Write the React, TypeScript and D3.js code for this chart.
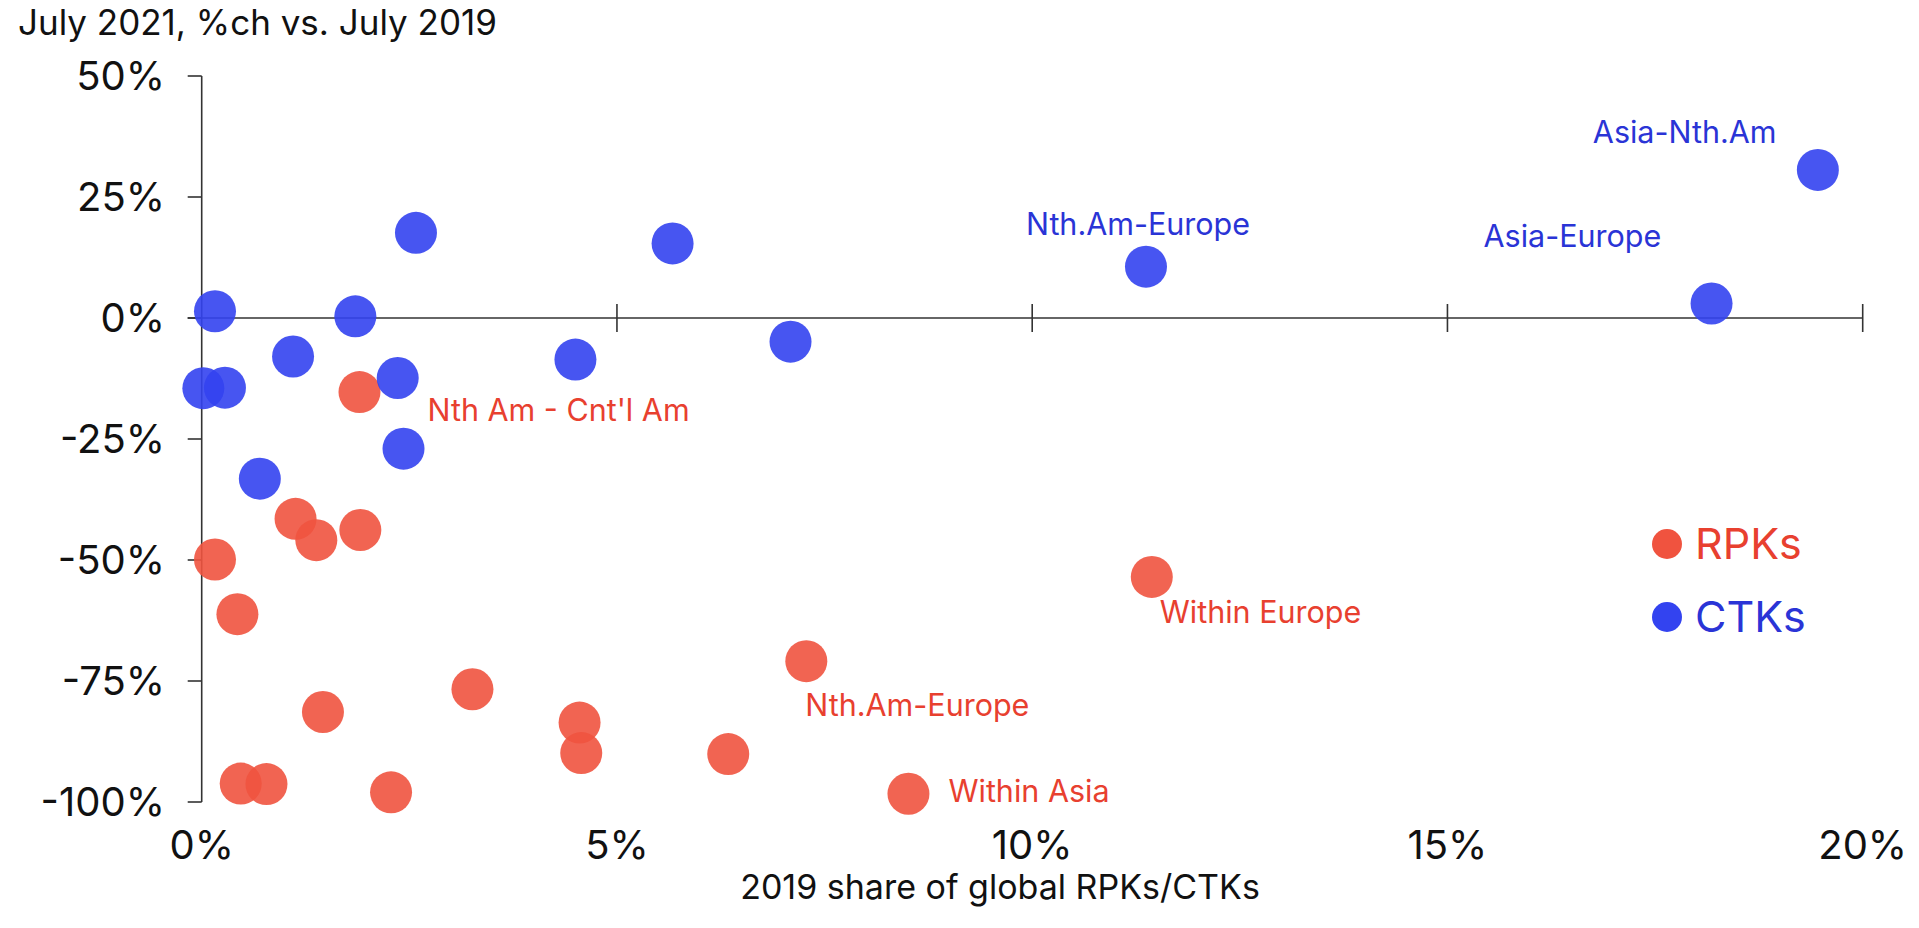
import React from "react";
import * as d3 from "d3";

// 2019 share of global RPKs/CTKs (%), July 2021 %ch vs July 2019 (%)
const rpkShare = [1.90, 1.13, 1.38, 1.91, 0.16, 0.43, 3.26, 1.46, 4.55, 4.57, 0.47, 0.78, 2.28, 11.44, 7.28, 6.34, 8.51];
const rpkChange = [-15.3, -41.5, -45.9, -43.8, -49.9, -61.2, -76.7, -81.4, -83.6, -89.9, -96.2, -96.3, -98.0, -53.5, -70.9, -90.1, -98.3];

const ctkShare = [0.16, 1.85, 1.10, 0.02, 0.28, 2.36, 2.43, 0.70, 4.50, 5.67, 7.09, 11.37, 19.46, 18.18, 2.58];
const ctkChange = [1.4, 0.35, -7.95, -14.5, -14.4, -12.4, -27.0, -33.2, -8.6, 15.4, -4.9, 10.6, 30.6, 3.0, 17.6];

const xTicks = [0, 5, 10, 15, 20];
const yTicks = [50, 25, 0, -25, -50, -75, -100];

const seriesNames = ["RPKs", "CTKs"];

// annotations: series, point index, label
const annoSeries = ["CTKs", "CTKs", "CTKs", "RPKs", "RPKs", "RPKs", "RPKs"];
const annoIndex = [12, 11, 13, 0, 13, 14, 16];
const annoText = ["Asia-Nth.Am", "Nth.Am-Europe", "Asia-Europe", "Nth Am - Cnt'l Am", "Within Europe", "Nth.Am-Europe", "Within Asia"];
const annoDx = [-225, -120, -228, 68, 8, -1, 40];
const annoDy = [-27, -32, -56, 29, 46, 55, 8];

const RED = "#F0533F";
const BLUE = "#3343F0";
const RED_TXT = "#E8402F";
const BLUE_TXT = "#2A34D6";
const FONT = "Inter, 'Liberation Sans', Arial, sans-serif";

export default function App() {
  const W = 1919, H = 928;
  const x = d3.scaleLinear().domain([0, 20]).range([201.7, 1862.7]);
  const y = d3.scaleLinear().domain([-100, 50]).range([802, 76]);
  const axisColor = "#333";

  const rpk = rpkShare.map((v, i) => ({ x: v, y: rpkChange[i] }));
  const ctk = ctkShare.map((v, i) => ({ x: v, y: ctkChange[i] }));
  const data: Record<string, { x: number; y: number }[]> = { RPKs: rpk, CTKs: ctk };
  const fmt = (v: number) => `${v}%`;

  return (
    <svg width={W} height={H} style={{ position: "absolute", left: 0, top: 0, background: "#fff" }} fontFamily={FONT}>
      <rect x={0} y={0} width={W} height={H} fill="#fff" />
      {/* title */}
      <text x={18} y={35} fontSize={35} fill="#111">July 2021, %ch vs. July 2019</text>

      {/* y axis */}
      <line x1={x(0)} x2={x(0)} y1={y(50)} y2={y(-100)} stroke={axisColor} strokeWidth={1.6} />
      {yTicks.map((t) => (
        <g key={"yt" + t}>
          <line x1={x(0) - 14} x2={x(0)} y1={y(t)} y2={y(t)} stroke={axisColor} strokeWidth={1.6} />
          <text x={165} y={y(t) + 14} fontSize={40} textAnchor="end" fill="#111">{fmt(t)}</text>
        </g>
      ))}

      {/* x axis at 0 */}
      <line x1={x(0) - 14} x2={x(20)} y1={y(0)} y2={y(0)} stroke={axisColor} strokeWidth={1.6} />
      {xTicks.filter((t) => t > 0).map((t) => (
        <line key={"xt" + t} x1={x(t)} x2={x(t)} y1={y(0) - 14} y2={y(0) + 14} stroke={axisColor} strokeWidth={1.6} />
      ))}
      {xTicks.map((t) => (
        <text key={"xl" + t} x={x(t)} y={859} fontSize={40} textAnchor="middle" fill="#111">{fmt(t)}</text>
      ))}
      <text x={1000} y={899} fontSize={34} textAnchor="middle" fill="#111">2019 share of global RPKs/CTKs</text>

      {/* points */}
      {seriesNames.map((s) => (
        <g key={s}>
          {data[s].map((d, i) => (
            <circle key={i} cx={x(d.x)} cy={y(d.y)} r={21} fill={s === "RPKs" ? RED : BLUE} fillOpacity={0.9} />
          ))}
        </g>
      ))}

      {/* annotations */}
      {annoText.map((t, i) => {
        const s = annoSeries[i];
        const p = data[s][annoIndex[i]];
        return (
          <text key={"a" + i} x={x(p.x) + annoDx[i]} y={y(p.y) + annoDy[i]} fontSize={30.5}
            fill={s === "RPKs" ? RED_TXT : BLUE_TXT}>{t}</text>
        );
      })}

      {/* legend */}
      {seriesNames.map((s, i) => (
        <g key={"lg" + s} transform={`translate(1667, ${544 + i * 73})`}>
          <circle cx={0} cy={0} r={15} fill={s === "RPKs" ? RED : BLUE} />
          <text x={28} y={15} fontSize={43} fill={s === "RPKs" ? RED_TXT : BLUE_TXT}>{s}</text>
        </g>
      ))}
    </svg>
  );
}
